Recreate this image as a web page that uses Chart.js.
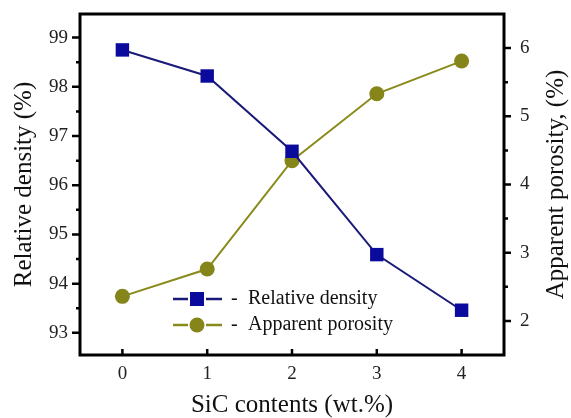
<!DOCTYPE html>
<html>
<head>
<meta charset="utf-8">
<script src="https://cdn.jsdelivr.net/npm/chart.js@4"></script>
<style>
  html, body { margin: 0; padding: 0; background: #fff; }
  #wrap { width: 571px; height: 418px; }
</style>
</head>
<body>
<div id="wrap"><canvas id="sicChart"></canvas></div>
<script>
// data
const sicContents = [0, 1, 2, 3, 4];
const relativeDensity = [98.75, 98.22, 96.69, 94.59, 93.46];
const apparentPorosity = [2.36, 2.76, 4.35, 5.33, 5.81];
const xTicks = [0, 1, 2, 3, 4];
const densityTicks = [93, 94, 95, 96, 97, 98, 99];
const porosityTicks = [2, 3, 4, 5, 6];

const serif = 'Liberation Serif';
const navyLine = '#1a1a78', navyMark = '#0a0a9c';
const oliveLine = '#8a8a1c', oliveMark = '#85851a';

// frame, tick marks (inward on x, outward on y), right title and the legend box
const decorations = {
  id: 'decorations',
  afterDraw(chart) {
    const ctx = chart.ctx;
    const a = chart.chartArea;
    const {x, y, y1} = chart.scales;
    ctx.save();
    ctx.strokeStyle = '#000';
    ctx.lineWidth = 2.5;
    ctx.beginPath();
    densityTicks.forEach(v => {
      const p = y.getPixelForValue(v);
      ctx.moveTo(a.left - 8, p); ctx.lineTo(a.left, p);
      const m = y.getPixelForValue(v + 0.5);
      if (m > a.top + 3) { ctx.moveTo(a.left - 4, m); ctx.lineTo(a.left, m); }
    });
    porosityTicks.forEach(v => {
      const p = y1.getPixelForValue(v);
      ctx.moveTo(a.right, p); ctx.lineTo(a.right + 7, p);
      const m = y1.getPixelForValue(v + 0.5);
      if (m > a.top + 3) { ctx.moveTo(a.right, m); ctx.lineTo(a.right + 4, m); }
    });
    xTicks.forEach(v => {
      const p = x.getPixelForValue(v);
      ctx.moveTo(p, a.bottom); ctx.lineTo(p, a.bottom - 6);
    });
    ctx.stroke();
    ctx.lineWidth = 3;
    ctx.strokeRect(a.left, a.top, a.right - a.left, a.bottom - a.top);

    // right axis title reads bottom-to-top like the left one
    ctx.fillStyle = '#111';
    ctx.font = '25px "' + serif + '"';
    ctx.textAlign = 'center';
    ctx.textBaseline = 'middle';
    ctx.translate(556, (a.top + a.bottom) / 2);
    ctx.rotate(-Math.PI / 2);
    ctx.fillText('Apparent porosity, (%)', 0, 0);
    ctx.setTransform(1, 0, 0, 1, 0, 0);

    // legend
    const rows = [
      {ds: chart.data.datasets[0], y: 299},
      {ds: chart.data.datasets[1], y: 325}
    ];
    ctx.font = '20px "' + serif + '"';
    ctx.textAlign = 'left';
    rows.forEach(r => {
      ctx.strokeStyle = r.ds.borderColor;
      ctx.lineWidth = 2.5;
      ctx.beginPath();
      ctx.moveTo(173, r.y); ctx.lineTo(188, r.y);
      ctx.moveTo(206, r.y); ctx.lineTo(222, r.y);
      ctx.stroke();
      ctx.fillStyle = r.ds.pointBackgroundColor;
      ctx.beginPath();
      if (r.ds.pointStyle === 'rect') ctx.rect(190, r.y - 7, 14, 14);
      else ctx.arc(197, r.y, 7.5, 0, Math.PI * 2);
      ctx.fill();
      ctx.fillStyle = '#111';
      ctx.fillText('-', 231, r.y);
      ctx.fillText(r.ds.label, 248, r.y);
    });
    ctx.restore();
  }
};

// fixed axis sizes, no extra label padding so the plot box stays put
const fixWidth = w => s => { s.width = w; s.paddingTop = 0; s.paddingBottom = 0; };

const ctx = document.getElementById('sicChart').getContext('2d');
const sicChart = new Chart(ctx, {
  type: 'line',
  data: {
    datasets: [
      {
        label: 'Relative density',
        data: sicContents.map((c, i) => ({x: c, y: relativeDensity[i]})),
        yAxisID: 'y',
        borderColor: navyLine,
        borderWidth: 2,
        pointStyle: 'rect',
        pointRadius: 9.5,
        pointBackgroundColor: navyMark,
        pointBorderColor: navyMark,
        pointBorderWidth: 0
      },
      {
        label: 'Apparent porosity',
        data: sicContents.map((c, i) => ({x: c, y: apparentPorosity[i]})),
        yAxisID: 'y1',
        borderColor: oliveLine,
        borderWidth: 2,
        pointStyle: 'circle',
        pointRadius: 7.5,
        pointBackgroundColor: oliveMark,
        pointBorderColor: oliveMark,
        pointBorderWidth: 0
      }
    ]
  },
  options: {
    responsive: true,
    maintainAspectRatio: false,
    animation: false,
    layout: { padding: { top: 14, left: 0, right: 0, bottom: 0 } },
    plugins: {
      legend: { display: false },
      tooltip: { enabled: false }
    },
    scales: {
      x: {
        type: 'linear',
        min: -0.5,
        max: 4.5,
        afterBuildTicks: s => { s.ticks = xTicks.map(v => ({value: v})); },
        afterFit: s => { s.height = 63; s.paddingLeft = 0; s.paddingRight = 0; },
        grid: { display: false, drawTicks: false },
        border: { display: false },
        ticks: { padding: 8, color: '#222', font: { family: serif, size: 19 } },
        title: {
          display: true,
          text: 'SiC contents (wt.%)',
          color: '#111',
          font: { family: serif, size: 25, lineHeight: 1 },
          padding: { top: 0, bottom: 0 }
        }
      },
      y: {
        position: 'left',
        min: 92.55,
        max: 99.48,
        afterBuildTicks: s => { s.ticks = densityTicks.map(v => ({value: v})); },
        afterFit: fixWidth(80),
        grid: { display: false, drawTicks: false },
        border: { display: false },
        ticks: { padding: 12, color: '#222', font: { family: serif, size: 19 } },
        title: {
          display: true,
          text: 'Relative density (%)',
          color: '#111',
          font: { family: serif, size: 25, lineHeight: 1 },
          padding: { top: 12, bottom: 0 }
        }
      },
      y1: {
        position: 'right',
        min: 1.5,
        max: 6.5,
        afterBuildTicks: s => { s.ticks = porosityTicks.map(v => ({value: v})); },
        afterFit: fixWidth(67),
        grid: { display: false, drawTicks: false },
        border: { display: false },
        ticks: { padding: 16, color: '#222', font: { family: serif, size: 19 } },
        title: { display: false }
      }
    }
  },
  plugins: [decorations]
});
</script>
</body>
</html>
